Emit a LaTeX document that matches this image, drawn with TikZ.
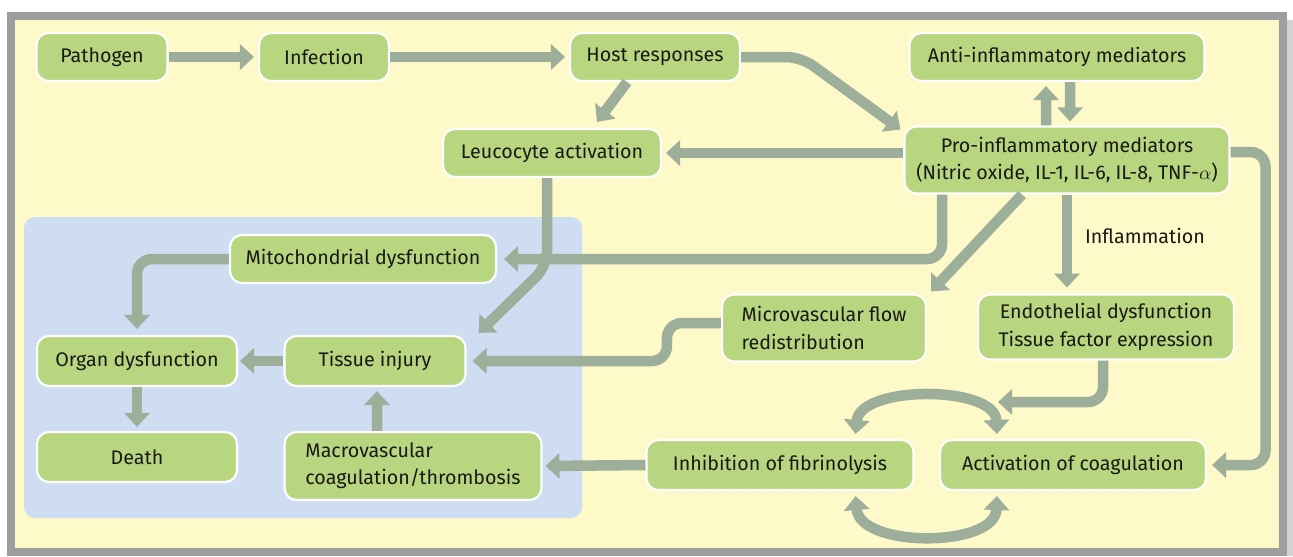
\documentclass[tikz,border=0pt]{standalone}
\usepackage{fontspec}
\setmainfont{Fira Sans}
\usepackage{amsmath}
\usetikzlibrary{positioning,arrows.meta,calc}
\definecolor{Frame}{HTML}{9E9E9E}
\definecolor{Paper}{HTML}{FDF9C8}
\definecolor{Panel}{HTML}{CEDDF2}
\definecolor{BoxGreen}{HTML}{B8D680}
\definecolor{ArrowGray}{HTML}{9DAE9A}

\begin{document}
\begin{tikzpicture}[x=0.02cm, y=-0.02cm,
  box/.style={draw=white, line width=1.2pt, rounded corners=0.24cm, fill=BoxGreen, align=center, inner sep=2pt, minimum height=0.96cm, font=\fontsize{11.2}{15.5}\selectfont, text=black!90},
  flow/.style={draw=ArrowGray, line width=0.21cm, rounded corners=0.3cm, -{Triangle[width=0.5cm, length=0.28cm]}},
  twoway/.style={flow, {Triangle[width=0.5cm, length=0.28cm]}-{Triangle[width=0.5cm, length=0.28cm]}}]
\useasboundingbox (0,0) rectangle (1293,556);
\fill[gray!35] (16,20) rectangle (1293,556);
\draw[line width=0.16cm, draw=Frame, fill=Paper] (11,16) rectangle (1283,552);
\fill[Panel, rounded corners=0.22cm] (24,217) rectangle (582,518);

\node[box, minimum width=2.62cm] (path)   at (102,57)  {Pathogen};
\node[box, minimum width=2.6cm]  (inf)    at (324,57)  {Infection};
\node[box, minimum width=3.4cm]  (host)   at (655,57)  {Host responses};
\node[box, minimum width=5.9cm]  (anti)   at (1057,57) {Anti-inflammatory mediators};
\node[box, minimum width=4.36cm] (leuco)  at (552,153) {Leucocyte activation};
\node[box, minimum width=6.5cm, minimum height=1.34cm] (pro) at (1067,160) {Pro-inflammatory mediators\\(Nitric oxide, IL-1, IL-6, IL-8, TNF-$\alpha$)};
\node[box, minimum width=5.32cm] (mito)   at (363,259) {Mitochondrial dysfunction};
\node[box, minimum width=4.08cm, minimum height=1.34cm, align=left] (micro) at (824,328) {Microvascular flow\\redistribution};
\node[box, minimum width=5.12cm, minimum height=1.3cm] (endo) at (1106,327) {Endothelial dysfunction\\Tissue factor expression};
\node[box, minimum width=4cm, minimum height=1cm]    (organ)  at (137,361) {Organ dysfunction};
\node[box, minimum width=3.62cm, minimum height=1cm] (tissue) at (375,361) {Tissue injury};
\node[box, minimum width=4cm, minimum height=1cm]    (death)  at (137,457) {Death};
\node[box, minimum width=5.14cm, minimum height=1.36cm, align=left] (macro) at (413,466) {Macrovascular\\coagulation/thrombosis};
\node[box, minimum width=5.34cm, minimum height=1cm] (fibr)   at (780,465) {Inhibition of fibrinolysis};
\node[box, minimum width=5.32cm, minimum height=1cm] (coag)   at (1073,465) {Activation of coagulation};
\coordinate (meet) at (998,402);

\draw[flow] (path.east) -- ([xshift=-0.08cm]inf.west);
\draw[flow] (inf.east) -- ([xshift=-0.08cm]host.west);
\draw[flow] (host.east) -- ++(60,0) -- ([xshift=-0.06cm,yshift=-0.08cm]pro.north west);
\draw[flow] ([xshift=-0.56cm]host.south) -- ([xshift=0.9cm,yshift=0.12cm]leuco.north);
\draw[flow] ([xshift=-0.42cm]pro.north) -- ([xshift=-0.22cm,yshift=-0.08cm]anti.south);
\draw[flow] ([xshift=0.26cm]anti.south) -- ([xshift=0.06cm,yshift=0.08cm]pro.north);
\draw[flow] (pro.west |- leuco.east) -- ([xshift=0.08cm]leuco.east);
\draw[flow] ([xshift=-2.5cm]pro.south) |- ([xshift=0.14cm]mito.east);
\draw[flow] ([xshift=-0.9cm]pro.south) -- ([xshift=0.08cm,yshift=0.04cm]micro.north east);
\draw[flow] (pro.south) -- ++(0,93) node[pos=0.45, right=4pt, black!90, font=\fontsize{11.2}{15.5}\selectfont] {Inflammation};
\draw[flow] ([yshift=0.16cm]pro.east) -- ++(35,0) |- ([xshift=0.1cm]coag.east);
\draw[flow] ([xshift=-0.1cm]leuco.south) -- ++(0,88) -- ([xshift=0.24cm,yshift=0.04cm]tissue.north east);
\draw[flow] ([yshift=0.1cm]micro.west) -- ++(-54,0) |- ([xshift=0.12cm]tissue.east);
\draw[flow] (mito.west) -| ([yshift=0.12cm]organ.north);
\draw[flow] (tissue.west) -- ([xshift=0.04cm]organ.east);
\draw[flow] (organ.south) -- ([yshift=0.08cm]death.north);
\draw[flow] ([xshift=-0.72cm]macro.north) -- ([xshift=0.04cm,yshift=-0.08cm]tissue.south);
\draw[flow] (fibr.west) -- ([xshift=0.06cm]macro.east);
\draw[flow] ([xshift=-0.06cm]endo.south) |- (meet);
\draw[twoway] ([xshift=-1.18cm,yshift=0.1cm]fibr.north east) .. controls (860,385) and (995,385) .. ([xshift=1.16cm,yshift=0.1cm]coag.north west);
\draw[twoway] ([xshift=-1.18cm,yshift=-0.1cm]fibr.south east) .. controls (860,548) and (995,548) .. ([xshift=1.16cm,yshift=-0.1cm]coag.south west);
\end{tikzpicture}
\end{document}
